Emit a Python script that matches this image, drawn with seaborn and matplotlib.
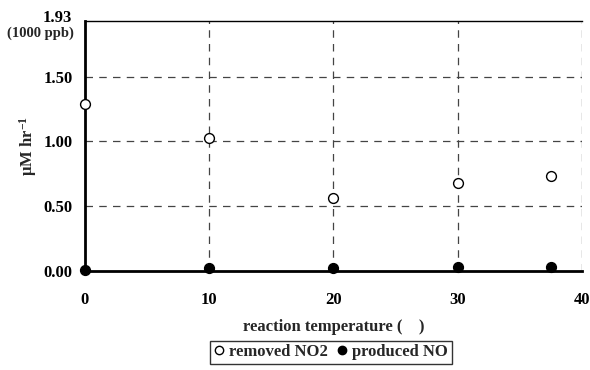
import numpy as np
import pandas as pd
import matplotlib
matplotlib.use("Agg")
import matplotlib.pyplot as plt
import matplotlib.transforms as mtransforms
import seaborn as sns
from matplotlib.lines import Line2D

# data
temperature = [0, 10, 20, 30, 37.5]
removed_no2 = [1.29, 1.03, 0.56, 0.68, 0.73]
produced_no = [0.01, 0.02, 0.02, 0.03, 0.03]
y_ticks = [0.0, 0.5, 1.0, 1.5, 1.93]
y_tick_labels = ['0.00', '0.50', '1.00', '1.50', '1.93']
x_ticks = [0, 10, 20, 30, 40]

sns.set_theme(style='white')
plt.rcParams['font.family'] = ['Liberation Serif', 'DejaVu Serif']
plt.rcParams['font.weight'] = 'bold'
plt.rcParams['mathtext.fontset'] = 'custom'
plt.rcParams['mathtext.rm'] = 'Liberation Serif:bold'
plt.rcParams['mathtext.default'] = 'rm'

df = pd.DataFrame({'temp': temperature, 'no2': removed_no2, 'no': produced_no})

fig = plt.figure(figsize=(5.9, 3.7), dpi=100)
ax = fig.add_axes([0.144, 0.268, 0.842, 0.675])

sns.scatterplot(data=df, x='temp', y='no2', ax=ax, marker='o', s=50,
                facecolor='white', edgecolor='black', linewidth=1, zorder=5, clip_on=False)
sns.scatterplot(data=df, x='temp', y='no', ax=ax, marker='o', s=50,
                color='black', edgecolor='black', linewidth=1, zorder=5, clip_on=False)

ax.set_xlim(0, 40)
ax.set_ylim(0, 1.93)
ax.set_xticks(x_ticks)
ax.set_yticks(y_ticks)
ax.set_yticklabels(y_tick_labels)
ax.tick_params(axis='both', labelsize=12, direction='in', length=4, width=1.2, colors='black', pad=9)
ax.tick_params(axis='x', length=0, pad=15)
for lab in ax.get_xticklabels() + ax.get_yticklabels():
    lab.set_fontweight('bold')

# top label sits a little above the axis top
top_lab = ax.get_yticklabels()[-1]
top_lab.set_transform(top_lab.get_transform() +
                      mtransforms.ScaledTranslation(0, 4 / 72, fig.dpi_scale_trans))

# dashed grid lines
for x in x_ticks[1:]:
    ax.axvline(x, color='#444444', ls=(0, (6, 5)), lw=0.9, zorder=1)
for y in [0.5, 1.0, 1.5]:
    ax.axhline(y, color='#444444', ls=(0, (6, 5)), lw=0.9, zorder=1)

ax.spines['left'].set_linewidth(2)
ax.spines['bottom'].set_linewidth(2)
ax.spines['top'].set_linewidth(1)
ax.spines['right'].set_visible(False)
for s in ax.spines.values():
    s.set_color('black')

ax.text(-0.022, 0.952, '(1000 ppb)', transform=ax.transAxes, ha='right', va='center',
        fontsize=10.5, fontweight='bold')

ax.set_xlabel('reaction temperature (    )', fontsize=12, fontweight='bold', labelpad=8)
ax.set_ylabel(r'μM hr$^{-1}$', fontsize=12, fontweight='bold', labelpad=3)

handles = [
    Line2D([], [], ls='none', marker='o', ms=6, mfc='white', mec='black', mew=1, label='removed NO2'),
    Line2D([], [], ls='none', marker='o', ms=6, mfc='black', mec='black', mew=1, label='produced NO'),
]
leg = fig.legend(handles=handles, loc='center', bbox_to_anchor=(0.561, 0.048), ncol=2,
                 frameon=True, fancybox=False, edgecolor='black', handlelength=0.6,
                 handletextpad=0.3, columnspacing=0.6, borderpad=0.2,
                 prop={'family': 'Liberation Serif', 'weight': 'bold', 'size': 12})
leg.get_frame().set_linewidth(1)

fig.savefig('out.png', dpi=100)
